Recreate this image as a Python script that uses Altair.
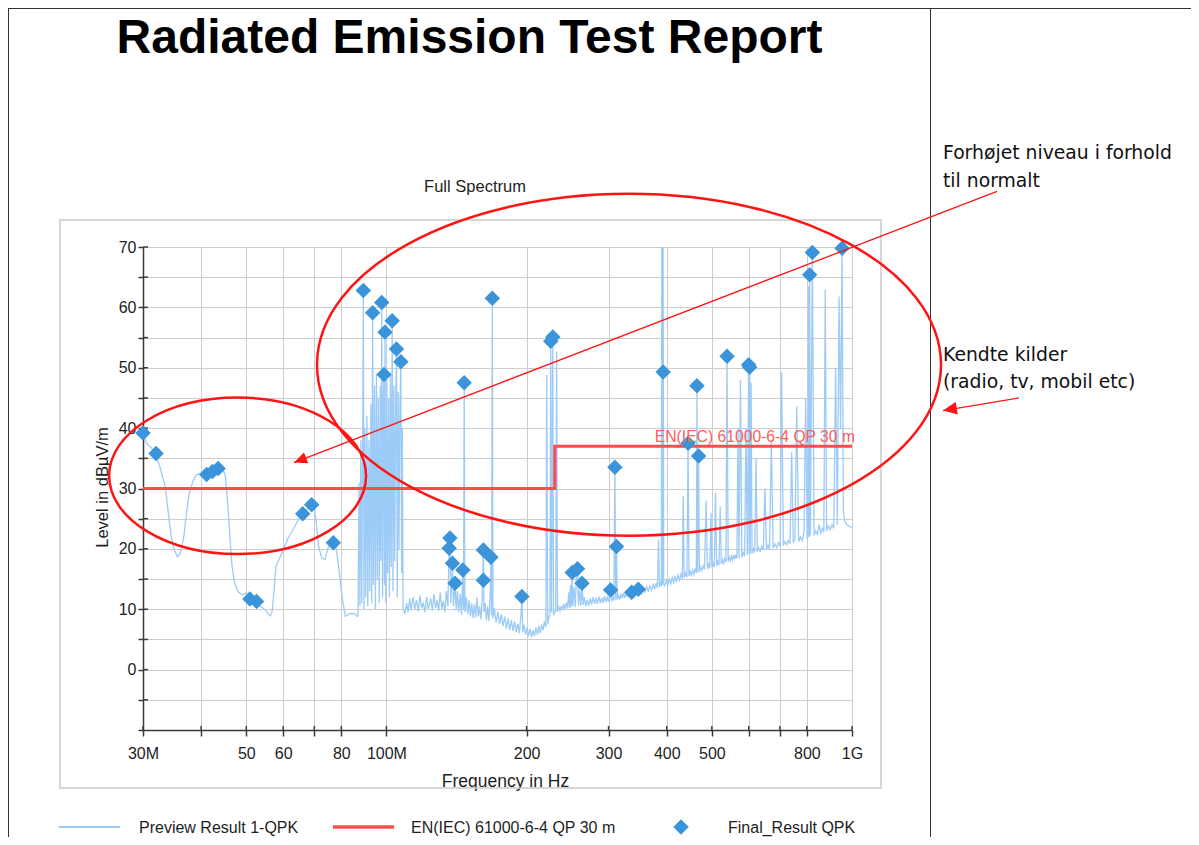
import altair as alt
import pandas as pd

# ---------------- values ----------------
# Preview Result 1-QPK trace: (frequency MHz, level dBµV/m)
preview_trace = [
    (30.0, 39.5), (30.5, 37.5), (31.2, 36.8), (32.0, 35.6), (32.6, 33.6), (33.5, 30.3),
    (34.0, 25.9), (34.5, 22.0), (35.1, 19.6), (35.6, 18.7), (36.1, 19.3), (36.7, 22.0),
    (37.2, 25.9), (37.7, 29.2), (38.4, 31.2), (39.1, 32.3), (40.0, 32.4), (41.0, 32.0),
    (42.0, 32.8), (43.0, 33.2), (44.0, 33.4), (44.6, 33.1), (45.1, 32.0), (45.6, 27.6),
    (46.1, 22.0), (46.6, 17.1), (47.2, 14.3), (48.0, 12.9), (49.0, 12.4), (50.0, 12.7),
    (51.0, 11.6), (52.0, 11.4), (53.0, 11.0), (53.9, 10.4), (54.9, 9.9), (55.6, 9.35),
    (56.3, 8.9), (56.8, 9.6), (57.3, 12.7), (57.9, 17.1), (60.0, 19.8), (61.5, 21.8),
    (63.6, 23.7), (65.2, 25.4), (66.5, 26.0), (68.0, 26.8), (69.0, 27.8), (69.8, 27.6),
    (70.7, 24.3), (71.5, 20.4), (72.6, 18.5), (73.8, 18.2), (74.9, 20.1), (76.7, 21.0),
    (77.9, 20.4), (79.1, 16.5), (80.3, 12.1), (81.6, 8.8), (83.4, 9.3), (85.3, 9.3),
    (86.6, 8.8),
    # FM band
    (86.9, 9.0), (87.3, 31.0), (87.7, 10.5), (88.1, 38.0), (88.5, 11.0), (88.9, 36.0),
    (89.2, 62.8), (89.5, 10.0), (89.9, 40.0), (90.3, 12.0), (90.8, 42.0), (91.2, 10.5),
    (91.7, 38.0), (92.1, 13.0), (92.6, 44.0), (93.0, 11.0), (93.4, 59.1), (93.8, 14.0),
    (94.3, 47.0), (94.7, 10.0), (95.2, 49.0), (95.6, 15.0), (96.1, 45.0), (96.5, 11.0),
    (97.0, 47.0), (97.3, 18.0), (97.7, 60.8), (98.1, 12.0), (98.5, 46.0), (98.8, 48.9),
    (99.0, 14.0), (99.3, 55.9), (99.7, 11.0), (100.2, 48.0), (100.6, 16.0), (101.1, 45.0),
    (101.5, 12.0), (102.0, 49.0), (102.4, 17.0), (102.9, 57.8), (103.3, 13.0), (103.8, 47.0),
    (104.2, 18.0), (104.7, 44.0), (105.1, 53.1), (105.5, 12.0), (106.0, 46.0), (106.4, 20.0),
    (106.9, 43.0), (107.4, 51.0), (107.8, 16.0), (108.2, 40.0), (108.6, 10.0),
    # 108 - 230 MHz
    (109.5, 9.2), (110.5, 11.0), (111.3, 9.5), (112.2, 11.8), (113.0, 9.8), (114.0, 12.0),
    (115.0, 10.0), (116.0, 11.5), (117.0, 9.6), (118.0, 12.3), (119.0, 10.2), (120.0, 11.0),
    (121.0, 9.5), (122.0, 12.0), (123.0, 10.0), (124.5, 11.8), (125.5, 9.8), (126.5, 12.5),
    (127.5, 10.2), (128.5, 11.5), (129.5, 9.7), (130.5, 12.8), (131.5, 10.0), (132.5, 11.4),
    (133.5, 9.5), (134.5, 13.0), (135.5, 10.5), (136.4, 20.1), (136.9, 21.8), (137.5, 11.0),
    (138.6, 17.6), (139.3, 10.5), (140.4, 14.3), (141.2, 9.8), (142.0, 13.0), (143.0, 9.5),
    (144.0, 12.5), (145.0, 9.0), (145.9, 16.5), (146.4, 10.0), (146.9, 47.5), (147.4, 9.5),
    (148.5, 12.0), (149.5, 9.2), (150.5, 11.5), (151.5, 8.8), (152.5, 11.0), (153.5, 8.5),
    (154.5, 10.8), (155.5, 8.6), (156.5, 12.0), (157.5, 8.8), (158.5, 10.5), (159.5, 8.3),
    (160.5, 11.5), (161.5, 19.8), (162.0, 9.5), (163.0, 11.0), (164.0, 8.2), (165.0, 10.5),
    (166.0, 8.0), (167.0, 12.0), (167.7, 18.6), (168.2, 9.0), (168.8, 61.5), (169.4, 8.5),
    (170.5, 10.2), (172.0, 7.8), (173.5, 9.6), (175.0, 7.5), (176.5, 9.2), (178.0, 7.2),
    (179.5, 8.8), (181.0, 6.8), (182.5, 8.5), (184.0, 6.6), (185.5, 8.2), (187.0, 6.4),
    (188.5, 8.0), (190.0, 6.2), (191.5, 7.6), (193.0, 6.0), (194.5, 9.0), (195.4, 12.1),
    (196.3, 6.2), (197.5, 7.4), (199.0, 5.8), (200.5, 7.0), (202.0, 5.6), (203.5, 6.8),
    (205.0, 5.4), (206.5, 6.5), (208.0, 5.6), (209.5, 7.0), (211.0, 5.8), (212.5, 7.2),
    (214.0, 6.0), (215.5, 7.5), (217.0, 6.5), (218.5, 8.0), (220.0, 7.0), (221.0, 48.8),
    (222.0, 7.5), (223.5, 8.8), (224.5, 9.0), (225.4, 54.4), (226.2, 9.5), (227.7, 55.1),
    (228.5, 9.0), (229.8, 9.5),
    # 230 - 1000 MHz
    (231.0, 9.8), (232.0, 52.7), (233.0, 9.6), (234.5, 10.4), (236.0, 9.7), (237.5, 10.6),
    (239.0, 9.8), (240.5, 10.9), (242.0, 10.0), (243.5, 11.2), (245.0, 10.1), (246.5, 12.8),
    (247.5, 10.2), (248.5, 14.0), (249.5, 10.4), (250.6, 16.1), (251.5, 10.5), (253.0, 13.6),
    (254.5, 10.4), (255.8, 15.2), (257.3, 16.7), (258.5, 10.6), (260.0, 13.2), (261.5, 10.6),
    (263.1, 14.3), (264.5, 10.7), (266.0, 12.0), (268.0, 10.5), (270.0, 11.6), (272.0, 10.6),
    (274.0, 11.8), (276.0, 10.8), (278.0, 12.0), (280.0, 10.9), (282.0, 11.8), (284.0, 10.9),
    (286.0, 12.1), (288.0, 11.0), (290.0, 11.9), (292.0, 11.0), (294.0, 12.2), (296.0, 11.2),
    (298.0, 12.0), (300.0, 11.2), (301.5, 12.4), (303.0, 13.2), (304.5, 11.3), (306.5, 12.1),
    (308.0, 11.4), (309.5, 33.5), (310.8, 11.6), (312.0, 20.4), (313.2, 11.6), (315.0, 12.4),
    (317.0, 11.6), (319.0, 12.6), (321.0, 11.8), (323.0, 12.7), (325.0, 11.9), (327.0, 12.8),
    (329.0, 12.0), (331.0, 12.9), (333.6, 12.7), (335.0, 12.1), (336.3, 12.8), (338.0, 12.2),
    (340.0, 13.1), (342.0, 12.3), (344.0, 13.0), (346.3, 13.3), (348.0, 12.4), (350.0, 13.3),
    (353.0, 12.6), (356.0, 13.5), (359.0, 12.8), (362.0, 13.7), (365.0, 13.0), (368.0, 13.9),
    (371.0, 13.2), (374.0, 14.1), (377.0, 13.4), (380.0, 14.4), (382.0, 13.5), (384.0, 21.5),
    (386.0, 13.7), (388.0, 14.6), (389.5, 13.8), (390.5, 78.0), (391.8, 14.0), (392.8, 78.0),
    (394.0, 14.2), (396.0, 13.9), (399.0, 14.8), (402.0, 14.0), (405.0, 15.0), (408.0, 14.2),
    (411.0, 15.2), (414.0, 14.4), (417.0, 15.4), (420.0, 14.6), (423.0, 15.6), (426.0, 14.8),
    (429.0, 15.8), (432.0, 15.0), (434.0, 28.7), (436.0, 15.2), (439.0, 16.0), (442.0, 15.3),
    (444.5, 37.5), (446.5, 15.5), (449.0, 16.3), (452.0, 15.6), (455.0, 16.5), (458.0, 15.8),
    (461.0, 16.8), (463.0, 16.0), (464.5, 47.0), (466.0, 16.1), (468.3, 35.4), (470.0, 16.2),
    (473.0, 17.0), (476.0, 16.4), (479.0, 17.2), (482.0, 16.6), (486.0, 28.0), (489.0, 16.7),
    (492.0, 17.5), (495.0, 16.8), (498.0, 26.0), (500.0, 16.9), (503.0, 17.6), (506.0, 17.0),
    (509.0, 29.3), (512.0, 17.2), (515.0, 17.9), (518.0, 17.3), (521.0, 27.0), (524.0, 17.5),
    (527.0, 18.2), (530.0, 17.6), (533.0, 18.4), (536.0, 17.8), (539.0, 51.9), (542.0, 17.9),
    (545.0, 18.6), (548.0, 18.0), (551.0, 18.8), (554.0, 18.2), (557.0, 19.0), (560.0, 18.3),
    (563.0, 19.1), (566.0, 18.4), (569.0, 40.0), (572.0, 18.5), (576.0, 48.0), (580.0, 18.6),
    (584.0, 19.4), (588.0, 18.8), (592.0, 40.0), (596.0, 19.0), (599.8, 50.5), (601.5, 19.1),
    (602.8, 50.1), (604.5, 19.2), (607.0, 47.5), (610.0, 19.2), (614.0, 20.0), (618.0, 19.4),
    (622.0, 35.0), (626.0, 19.5), (630.0, 20.2), (635.0, 19.6), (640.0, 20.4), (645.0, 19.8),
    (650.0, 30.0), (655.0, 19.9), (660.0, 20.6), (665.0, 20.0), (671.0, 38.0), (677.0, 20.1),
    (683.0, 20.8), (689.0, 20.2), (695.0, 21.0), (701.0, 20.4), (706.0, 49.2), (712.0, 20.5),
    (718.0, 21.2), (724.0, 20.7), (730.0, 21.4), (736.0, 20.8), (742.0, 36.0), (748.0, 21.0),
    (754.0, 21.6), (761.0, 43.6), (768.0, 21.2), (775.0, 22.0), (782.0, 21.4), (789.0, 23.0),
    (795.0, 45.0), (801.0, 21.8), (805.0, 22.0), (807.0, 63.5), (809.0, 22.0), (811.0, 65.4),
    (814.0, 22.2), (822.0, 69.1), (829.0, 22.2), (836.0, 23.0), (843.0, 22.4), (850.0, 24.0),
    (857.0, 22.6), (864.0, 23.4), (870.0, 22.8), (876.0, 62.9), (882.0, 23.0), (890.0, 23.8),
    (898.0, 23.2), (906.0, 24.0), (914.0, 23.4), (922.0, 50.0), (930.0, 24.0), (938.0, 61.8),
    (945.0, 40.0), (952.0, 69.8), (958.0, 26.5), (965.0, 24.5), (975.0, 24.0), (985.0, 23.8),
    (1000.0, 23.5),
]

# Final_Result QPK diamonds
final_freq = [30.0, 32.0, 41.1, 42.3, 43.5, 50.9, 52.6, 66.1, 69.1, 76.9,
              89.2, 93.4, 97.7, 98.8, 99.3, 102.9, 105.1, 107.4, 136.4, 136.9,
              138.6, 140.4, 145.9, 146.9, 161.5, 161.5, 167.7, 168.8, 195.4, 225.4,
              227.7, 250.6, 257.3, 263.1, 303.0, 309.5, 312.0, 336.3, 347.5, 393.0,
              444.5, 464.5, 468.3, 539.0, 599.8, 602.8, 811.0, 822.0, 952.0]
final_level = [39.2, 35.8, 32.3, 32.8, 33.3, 11.7, 11.3, 25.8, 27.3, 21.0,
               62.8, 59.1, 60.8, 48.9, 55.9, 57.8, 53.1, 51.0, 20.1, 21.8,
               17.6, 14.3, 16.5, 47.5, 19.8, 14.8, 18.6, 61.5, 12.1, 54.4,
               55.1, 16.1, 16.7, 14.3, 13.2, 33.5, 20.4, 12.8, 13.3, 49.3,
               37.5, 47.0, 35.4, 51.9, 50.5, 50.1, 65.4, 69.1, 69.8]

# EN(IEC) 61000-6-4 QP 30 m limit line
limit_freq = [30, 230, 230, 1000]
limit_level = [30, 30, 37, 37]

# axes
x_tick_values = [30, 40, 50, 60, 70, 80, 100, 200, 300, 400, 500, 600, 700, 800, 1000]
x_tick_text = ["30M", "", "50", "60", "", "80", "100M", "200", "300", "400", "500", "", "", "800", "1G"]
y_tick_values = [-10, -5, 0, 5, 10, 15, 20, 25, 30, 35, 40, 45, 50, 55, 60, 65, 70]

# texts
page_title = "Radiated Emission Test Report"
chart_title = "Full Spectrum"
note_lines_1 = ["Forhøjet niveau i forhold", "til normalt"]
note_lines_2 = ["Kendte kilder", "(radio, tv, mobil etc)"]
legend_names = ["Preview Result 1-QPK", "EN(IEC) 61000-6-4 QP 30 m", "Final_Result QPK"]

# hand-drawn annotations, anchored in data space (MHz, dB)
ellipses = [  # centre freq, centre level, half width px, height/width ratio
    (331.9, 50.5, 312, 0.548),
    (47.9, 32.1, 128.5, 0.609),
]
arrows = [  # start freq, start level, tip freq, tip level, head angle, head length px
    (2048, 79.2, 63.3, 34.3, 249, 13),
    (2283, 45.0, 1568, 42.9, 260.5, 14),
]

# ---------------- styling ----------------
FONT = "Liberation Sans"
NOTE_FONT = "DejaVu Sans"
TRACE_C = "#9dcbf8"
LIMIT_C = "#ff4b4b"
DIAMOND_C = "#3b94da"
RED = "#ff1414"
AX_C = "#3a3a3a"
TXT_C = "#1e1e1e"
PX0, PY0 = 143, 247   # page position of the plot origin


def vx(page_x):
    return alt.value(page_x - PX0)


def vy(page_y):
    return alt.value(page_y - PY0)


x_expr = " : ".join(f"datum.value == {v} ? '{t}'" for v, t in zip(x_tick_values, x_tick_text) if t) + " : ''"

x_scale = alt.Scale(type="log", domain=[30, 1000], nice=False)
y_scale = alt.Scale(domain=[-10, 70], nice=False, zero=False)

x_axis = alt.Axis(values=x_tick_values, labelExpr=x_expr, grid=True, gridColor="#cdcdcd", gridWidth=1,
                  domainColor=AX_C, domainWidth=1.5, tickColor=AX_C, tickWidth=1.5, tickSize=6,
                  labelFont=FONT, labelFontSize=16, labelColor=TXT_C, labelPadding=9,
                  labelOverlap=False, labelFlush=False,
                  title="Frequency in Hz", titleFont=FONT, titleFontSize=17.5, titleFontWeight="normal",
                  titleColor=TXT_C, titleX=362, titleY=56, titleAlign="center", titleBaseline="alphabetic")
y_axis = alt.Axis(values=y_tick_values,
                  labelExpr="datum.value >= 0 && datum.value % 10 == 0 ? datum.label : ''",
                  grid=True, gridColor="#cdcdcd", gridWidth=1,
                  domainColor=AX_C, domainWidth=1.5, tickColor=AX_C, tickWidth=1.5, tickSize=5,
                  labelFont=FONT, labelFontSize=16, labelColor=TXT_C, labelPadding=2,
                  labelOverlap=False, labelFlush=False,
                  title="Level in dBµV/m", titleFont=FONT, titleFontSize=16.5, titleFontWeight="normal",
                  titleColor=TXT_C, titleX=-36, titleY=240, titleAngle=270, titleAlign="center",
                  titleBaseline="alphabetic")


def X(field):
    return alt.X(field, type="quantitative", scale=x_scale, axis=x_axis)


def Y(field):
    return alt.Y(field, type="quantitative", scale=y_scale, axis=y_axis)


trace_df = pd.DataFrame({"f": [p[0] for p in preview_trace],
                         "L": [p[1] for p in preview_trace],
                         "i": list(range(len(preview_trace)))})
final_df = pd.DataFrame({"f": final_freq, "L": final_level})
limit_df = pd.DataFrame({"f": limit_freq, "L": limit_level, "i": list(range(len(limit_freq)))})
one = pd.DataFrame({"k": [0]})

layers = []

# frame around the chart
layers.append(alt.Chart(one).mark_rect(fillOpacity=0, stroke="#c9c9c9", strokeWidth=1.5).encode(
    x=vx(60), x2=vx(881), y=vy(220), y2=vy(788)))

# page borders
layers.append(alt.Chart(one).mark_rule(color="#333333", strokeWidth=1).encode(
    x=vx(8.5), x2=vx(1199), y=vy(8.5)))
layers.append(alt.Chart(one).mark_rule(color="#333333", strokeWidth=1).encode(
    x=vx(8.5), y=vy(8), y2=vy(845)))
layers.append(alt.Chart(one).mark_rule(color="#333333", strokeWidth=1).encode(
    x=vx(930.5), y=vy(8), y2=vy(845)))

# inner halves of the axis ticks
layers.append(alt.Chart(pd.DataFrame({"v": y_tick_values[1:]})).mark_rule(color=AX_C, strokeWidth=1.5).encode(
    y=Y("v"), x=alt.value(0), x2=alt.value(5)))
layers.append(alt.Chart(pd.DataFrame({"v": x_tick_values})).mark_rule(color=AX_C, strokeWidth=1.5).encode(
    x=X("v"), y=alt.value(483), y2=alt.value(479)))

# preview trace
layers.append(alt.Chart(trace_df).mark_line(color=TRACE_C, strokeWidth=1.3, clip=True).encode(
    x=X("f"), y=Y("L"), order="i:Q"))

# limit line
layers.append(alt.Chart(limit_df).mark_line(color=LIMIT_C, strokeWidth=3.2).encode(
    x=X("f"), y=Y("L"), order="i:Q"))

# final diamonds
layers.append(alt.Chart(final_df).mark_point(shape="diamond", filled=True, size=240, color=DIAMOND_C,
                                             opacity=1).encode(x=X("f"), y=Y("L")))

# limit label
layers.append(alt.Chart(pd.DataFrame({"f": [limit_freq[-1]], "L": [limit_level[-1]],
                                      "t": [legend_names[1]]})).mark_text(
    align="right", baseline="alphabetic", dx=3, dy=-4, font=FONT, fontSize=15.7, color="#ff5c5c").encode(
    x=X("f"), y=Y("L"), text="t:N"))

# ellipses
k = 0.5523
for ef, el, half_w, ratio in ellipses:
    b = ratio
    path = (f"M -1 0 C -1 {-k * b:.4f} {-k} {-b:.4f} 0 {-b:.4f} "
            f"C {k} {-b:.4f} 1 {-k * b:.4f} 1 0 "
            f"C 1 {k * b:.4f} {k} {b:.4f} 0 {b:.4f} "
            f"C {-k} {b:.4f} -1 {k * b:.4f} -1 0 Z")
    layers.append(alt.Chart(pd.DataFrame({"f": [ef], "L": [el]})).mark_point(
        shape=path, size=(2 * half_w) ** 2, filled=False, stroke=RED, strokeWidth=2.5, opacity=1).encode(
        x=X("f"), y=Y("L")))

# arrows
for f1, l1, f2, l2, ang, head in arrows:
    adf = pd.DataFrame({"f1": [f1], "l1": [l1], "f2": [f2], "l2": [l2]})
    layers.append(alt.Chart(adf).mark_rule(color=RED, strokeWidth=1.3).encode(
        x=X("f1"), y=Y("l1"), x2="f2", y2="l2"))
    layers.append(alt.Chart(adf).mark_point(
        shape="M 0 0 L -0.45 1 L 0.45 1 Z", size=(2 * head) ** 2, filled=True, color=RED, opacity=1,
        angle=ang).encode(x=X("f2"), y=Y("l2")))

# page title and chart title
layers.append(alt.Chart(one).mark_text(text=page_title, align="center", baseline="alphabetic", font=FONT,
                                       fontSize=48, fontWeight="bold", color="#000000").encode(
    x=vx(469.5), y=vy(53)))
layers.append(alt.Chart(one).mark_text(text=chart_title, align="center", baseline="alphabetic", font=FONT,
                                       fontSize=16.5, color=TXT_C).encode(x=vx(475), y=vy(192)))

# side notes
for line, base in zip(note_lines_1 + note_lines_2, [159, 187, 361, 388]):
    layers.append(alt.Chart(one).mark_text(text=line, align="left", baseline="alphabetic", font=NOTE_FONT,
                                           fontSize=18.8, color="#111111").encode(x=vx(943), y=vy(base)))

# legend
layers.append(alt.Chart(one).mark_rule(color=TRACE_C, strokeWidth=2).encode(x=vx(59), x2=vx(120), y=vy(827)))
layers.append(alt.Chart(one).mark_rule(color=LIMIT_C, strokeWidth=3.5).encode(x=vx(333), x2=vx(394), y=vy(827)))
layers.append(alt.Chart(one).mark_point(shape="diamond", filled=True, size=240, color=DIAMOND_C, opacity=1).encode(
    x=vx(681), y=vy(827)))
for name, lx in zip(legend_names, [139, 411, 728]):
    layers.append(alt.Chart(one).mark_text(text=name, align="left", baseline="alphabetic", font=FONT,
                                           fontSize=16, color=TXT_C).encode(x=vx(lx), y=vy(833)))

chart = alt.layer(*layers).properties(
    width=709, height=483,
    autosize=alt.AutoSizeParams(type="none"),
    padding={"left": 135, "top": 239, "right": 339, "bottom": 107},
    background="white",
).configure_view(strokeOpacity=0)

chart.save("out.html", embed_options={"renderer": "svg", "actions": False})
